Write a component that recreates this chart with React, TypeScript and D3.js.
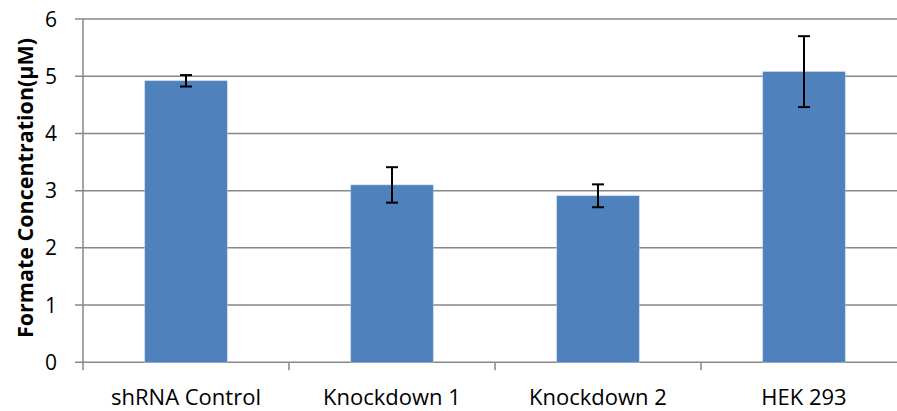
import React from "react";
import * as d3 from "d3";

const categories = ["shRNA Control", "Knockdown 1", "Knockdown 2", "HEK 293"];
const values = [4.92, 3.1, 2.91, 5.08];
const errors = [0.1, 0.31, 0.2, 0.62];
const yTicks = [0, 1, 2, 3, 4, 5, 6];
const yTitle = "Formate Concentration(μM)";

const W = 897;
const H = 411;
const left = 83;
const right = 907;
const top = 19;
const bottom = 362.3;
const FONT = "'Open Sans', Lato, sans-serif";

export default function App() {
  const x = d3.scaleBand<string>().domain(categories).range([left, right]).padding(0);
  const y = d3.scaleLinear().domain([0, 6]).range([bottom, top]);
  const bw = x.bandwidth() * 0.4;
  const cap = 6;
  return (
    <svg width={W} height={H} style={{ position: "absolute", left: 0, top: 0, background: "#fff" }}>
      {yTicks.map((t) => (
        <g key={t}>
          <line x1={left - 8} x2={right} y1={y(t)} y2={y(t)} stroke="#878787" strokeWidth={1.5} />
          <text x={57} y={y(t)} dy="0.36em" textAnchor="end" fontFamily={FONT} fontSize={21} fill="#000">
            {t}
          </text>
        </g>
      ))}
      <line x1={left} x2={left} y1={top} y2={bottom + 8} stroke="#878787" strokeWidth={1.5} />
      {categories.map((c, i) => (
        <line key={"tk" + i} x1={x(c)! + x.bandwidth()} x2={x(c)! + x.bandwidth()} y1={bottom} y2={bottom + 8} stroke="#878787" strokeWidth={1.5} />
      ))}
      {categories.map((c, i) => {
        const cx = x(c)! + x.bandwidth() / 2;
        return (
          <g key={c}>
            <rect x={cx - bw / 2} y={y(values[i])} width={bw} height={bottom - y(values[i])} fill="#4F81BD" stroke="#B9CDE5" strokeWidth={0.5} />
            <line x1={cx} x2={cx} y1={y(values[i] + errors[i])} y2={y(values[i] - errors[i])} stroke="#000" strokeWidth={2} />
            <line x1={cx - cap} x2={cx + cap} y1={y(values[i] + errors[i])} y2={y(values[i] + errors[i])} stroke="#000" strokeWidth={2} />
            <line x1={cx - cap} x2={cx + cap} y1={y(values[i] - errors[i])} y2={y(values[i] - errors[i])} stroke="#000" strokeWidth={2} />
            <text x={cx} y={405} textAnchor="middle" fontFamily={FONT} fontSize={22} fill="#000">
              {c}
            </text>
          </g>
        );
      })}
      <text
        transform={`translate(33,188) rotate(-90)`}
        textAnchor="middle"
        fontFamily={FONT}
        fontSize={21.5}
        fontWeight="bold"
        fill="#000"
      >
        {yTitle}
      </text>
    </svg>
  );
}
